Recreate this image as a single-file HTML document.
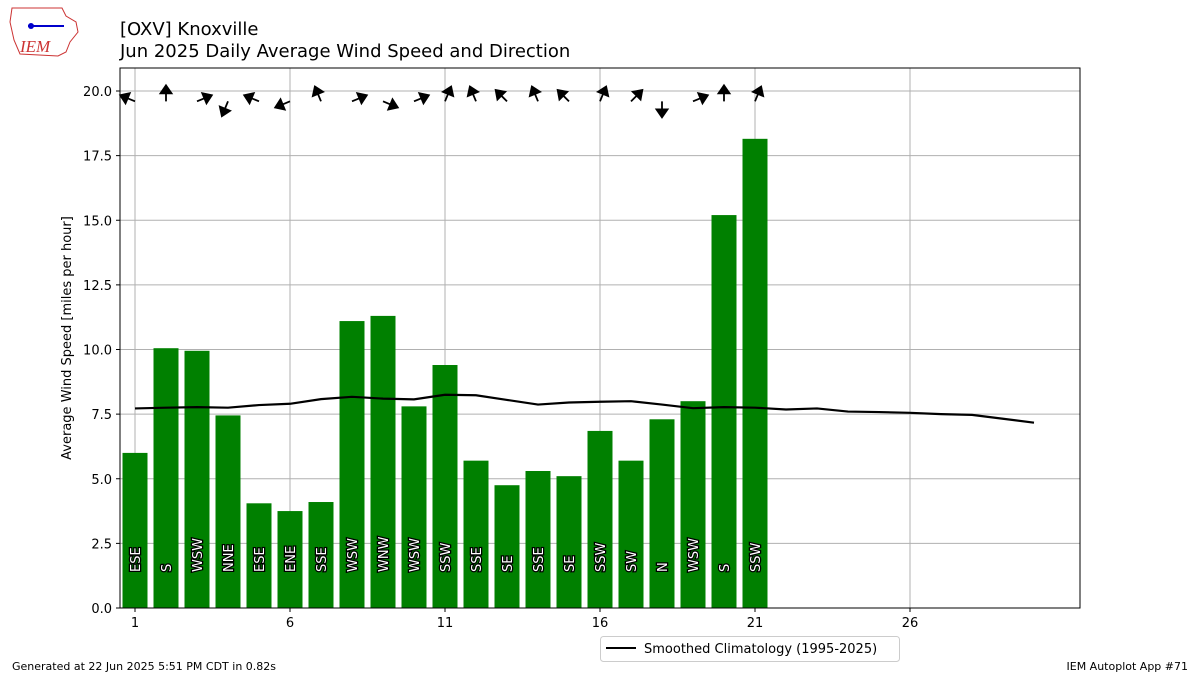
<!DOCTYPE html>
<html><head><meta charset="utf-8">
<style>
body{margin:0;background:#fff;font-family:"Liberation Sans","DejaVu Sans",sans-serif;}
svg text{font-family:"DejaVu Sans","Liberation Sans",sans-serif;}
</style></head><body>
<svg id="chart" width="1200" height="675" xmlns="http://www.w3.org/2000/svg">
<g>
<path d="M12,8 L62,8 L66,16 L76,22 L78,32 L70,42 L66,52 L58,56 L20,54 L14,40 L10,22 Z" fill="none" stroke="#c33" stroke-width="1"/>
<line x1="28" y1="26" x2="64" y2="26" stroke="#00c" stroke-width="2"/>
<circle cx="31" cy="26" r="3" fill="#00c"/>
<text x="20" y="52" font-size="17" fill="#c33" font-style="italic" style="font-family:'Liberation Serif',serif">IEM</text>
</g>
<text x="120" y="35" font-size="18">[OXV] Knoxville</text>
<text x="120" y="57" font-size="18">Jun 2025 Daily Average Wind Speed and Direction</text>
<g id="grid"></g><g id="bars"></g><g id="labels"></g><g id="clim"></g><g id="arrows"></g><g id="axes"></g>
<rect x="120" y="68" width="960" height="540" fill="none" stroke="#000" stroke-width="1"/>
<text transform="translate(71,338) rotate(-90)" text-anchor="middle" font-size="13">Average Wind Speed [miles per hour]</text>
<g>
<rect x="600.5" y="636.5" width="299" height="25" rx="3" fill="#fff" stroke="#ccc"/>
<line x1="606" y1="648" x2="636" y2="648" stroke="#000" stroke-width="2"/>
<text x="644" y="653" font-size="13">Smoothed Climatology (1995-2025)</text>
</g>
<text x="12" y="670" font-size="11">Generated at 22 Jun 2025 5:51 PM CDT in 0.82s</text>
<text x="1188" y="670" font-size="11" text-anchor="end">IEM Autoplot App #71</text>
</svg>
<script>
const days=[1,2,3,4,5,6,7,8,9,10,11,12,13,14,15,16,17,18,19,20,21];
const speeds=[6.0,10.05,9.95,7.45,4.05,3.75,4.1,11.1,11.3,7.8,9.4,5.7,4.75,5.3,5.1,6.85,5.7,7.3,8.0,15.2,18.15];
const dirs=["ESE","S","WSW","NNE","ESE","ENE","SSE","WSW","WNW","WSW","SSW","SSE","SE","SSE","SE","SSW","SW","N","WSW","S","SSW"];
const climDays=[1,2,3,4,5,6,7,8,9,10,11,12,13,14,15,16,17,18,19,20,21,22,23,24,25,26,27,28,29,30];
const climVals=[7.72,7.75,7.77,7.75,7.85,7.9,8.08,8.17,8.1,8.07,8.25,8.23,8.05,7.87,7.95,7.98,8.0,7.87,7.73,7.77,7.75,7.68,7.72,7.6,7.58,7.55,7.5,7.47,7.32,7.17];
const xTicks=[1,6,11,16,21,26];
const yTicks=[0,2.5,5,7.5,10,12.5,15,17.5,20];
const NS="http://www.w3.org/2000/svg";
const X=d=>135+(d-1)*31;
const Y=v=>608-v*25.85;
function mk(t,a,p){const e=document.createElementNS(NS,t);for(const k in a)e.setAttribute(k,a[k]);document.getElementById(p).appendChild(e);return e;}
const comp=["N","NNE","NE","ENE","E","ESE","SE","SSE","S","SSW","SW","WSW","W","WNW","NW","NNW"];
xTicks.forEach(t=>{
 const g=mk('line',{x1:X(t),x2:X(t),y1:68,y2:608,stroke:'#b0b0b0','stroke-width':1},'grid');
 
 mk('line',{x1:X(t),x2:X(t),y1:608,y2:612,stroke:'#000'},'axes');
 const l=mk('text',{x:X(t),y:627,'font-size':13,'text-anchor':'middle'},'axes');l.textContent=t;
 
});
yTicks.forEach(t=>{
 const g=mk('line',{x1:120,x2:1080,y1:Y(t),y2:Y(t),stroke:'#b0b0b0','stroke-width':1},'grid');
 
 mk('line',{x1:116,x2:120,y1:Y(t),y2:Y(t),stroke:'#000'},'axes');
 const l=mk('text',{x:112,y:Y(t)+5,'font-size':13,'text-anchor':'end'},'axes');l.textContent=t.toFixed(1);
 
});
days.forEach((d,i)=>{
 const b=mk('rect',{x:X(d)-12.5,y:Y(speeds[i]),width:25,height:608-Y(speeds[i]),fill:'#008000'},'bars');
 
 const t=mk('text',{transform:`translate(${X(d)+5},572) rotate(-90)`,'font-size':13,fill:'#fff',stroke:'#000','stroke-width':2.5,'paint-order':'stroke'},'labels');
 t.textContent=dirs[i];
 
 const deg=comp.indexOf(dirs[i])*22.5+180;const r=deg*Math.PI/180;
 const x0=X(d),y0=Y(19.6),L=16;const x1=x0+L*Math.sin(r),y1=y0-L*Math.cos(r);
 const ux=Math.sin(r),uy=-Math.cos(r),px=-uy,py=ux;
 const hx=x1-ux*8,hy=y1-uy*8;
 const a=mk('path',{d:`M${x0},${y0}L${hx},${hy}M${x1},${y1}L${hx+px*5.5},${hy+py*5.5}L${hx-px*5.5},${hy-py*5.5}Z`,stroke:'#000','stroke-width':1.8,fill:'#000'},'arrows');
 
});
const p=mk('polyline',{points:climDays.map((d,i)=>X(d)+','+Y(climVals[i])).join(' '),fill:'none',stroke:'#000','stroke-width':2.2},'clim');

</script>
</body></html>
